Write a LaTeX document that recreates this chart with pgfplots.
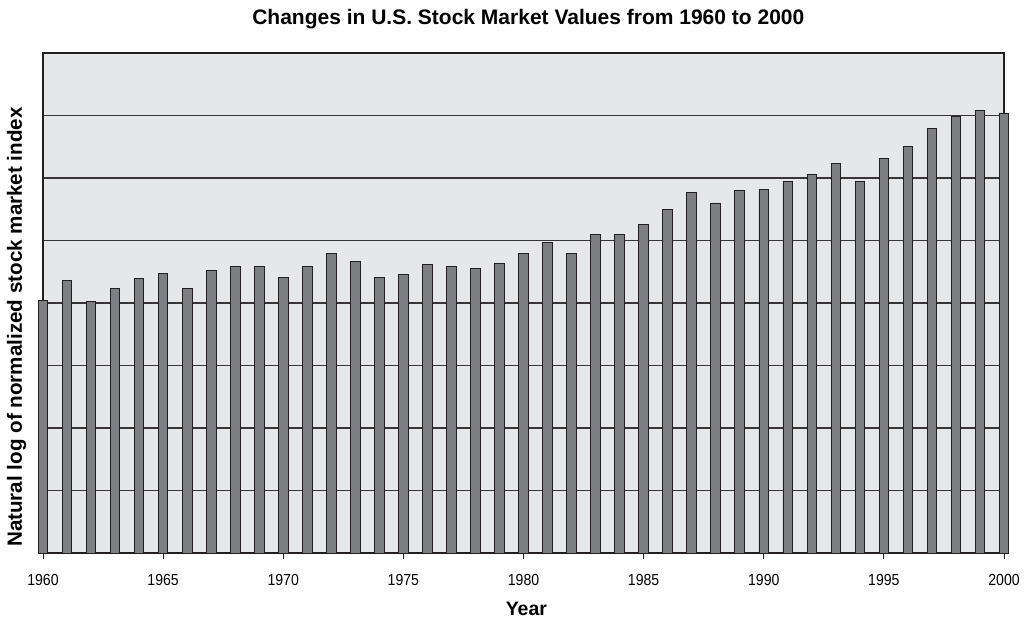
\documentclass[border=0pt]{standalone}
\usepackage{fontspec}
\setmainfont{Liberation Sans}
\newfontfamily\narrowfont[FakeStretch=0.88]{Liberation Sans}
\usepackage{pgfplots}
\pgfplotsset{compat=1.18}
\definecolor{bgc}{HTML}{E6E7E8}
\definecolor{barc}{HTML}{7E7F82}
\definecolor{edge}{HTML}{231F20}
\begin{document}
\begin{tikzpicture}
\useasboundingbox (-43pt,-66pt) rectangle (984pt,553pt);
\begin{axis}[
  scale only axis, width=961pt, height=500pt,
  at={(0,0)}, anchor=south west,
  xmin=1960, xmax=2000, ymin=0, ymax=8,
  clip=false,
  axis background/.style={fill=bgc},
  axis line style={edge, line width=1.1pt},
  ytick={1,2,3,4,5,6,7}, yticklabels={},
  ymajorgrids, grid style={edge!90!white, line width=1.3pt},
  major y tick style={draw=none},
  xtick={1960,1965,1970,1975,1980,1985,1990,1995,2000},
  xticklabels={1960,1965,1970,1975,1980,1985,1990,1995,2000},
  xtick pos=bottom,
  tick align=outside, major tick length=6pt,
  major x tick style={edge, line width=0.9pt},
  xticklabel style={font=\narrowfont\fontsize{16}{18}\selectfont, anchor=base, yshift=-26pt},
  title={Changes in U.S. Stock Market Values from 1960 to 2000},
  title style={font=\bfseries\fontsize{21}{24}\selectfont, at={(axis description cs:0.505,1)}, anchor=base, yshift=22pt},
  xlabel={Year},
  xlabel style={font=\bfseries\fontsize{19.5}{22}\selectfont, at={(axis description cs:0.503,0)}, anchor=base, yshift=-62pt},
  ylabel={Natural log of normalized stock market index},
  ylabel style={font=\bfseries\fontsize{20.6}{22}\selectfont, at={([xshift=-21pt]axis description cs:0,0.452)}, anchor=base},
  ybar, bar width=0.4,
]
\addplot[fill=barc, draw=edge, line width=0.9pt] coordinates {
(1960,4.04) (1961,4.36) (1962,4.02) (1963,4.24) (1964,4.39)
(1965,4.48) (1966,4.24) (1967,4.52) (1968,4.58) (1969,4.58)
(1970,4.41) (1971,4.59) (1972,4.79) (1973,4.67) (1974,4.41)
(1975,4.46) (1976,4.62) (1977,4.58) (1978,4.56) (1979,4.64)
(1980,4.79) (1981,4.97) (1982,4.79) (1983,5.10) (1984,5.09)
(1985,5.25) (1986,5.49) (1987,5.77) (1988,5.60) (1989,5.80)
(1990,5.82) (1991,5.95) (1992,6.05) (1993,6.23) (1994,5.95)
(1995,6.31) (1996,6.51) (1997,6.79) (1998,6.98) (1999,7.08)
(2000,7.04)
};
\end{axis}
\end{tikzpicture}
\end{document}
